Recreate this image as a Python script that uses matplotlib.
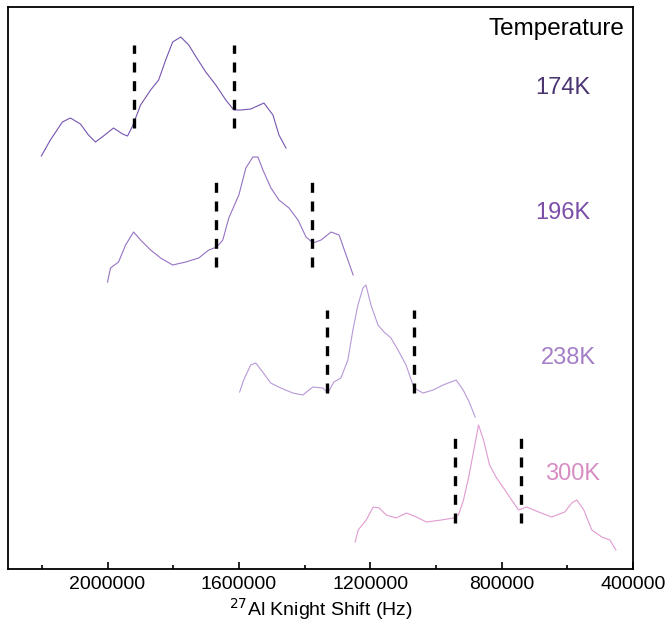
import matplotlib.pyplot as plt
from matplotlib.ticker import MultipleLocator

plt.rcParams['font.family'] = ['Liberation Sans', 'DejaVu Sans']

# spectra: shift (Hz) and offset intensity (arb. units)
shift_174 = [2201500, 2174000, 2137400, 2113000, 2082500, 2058000, 2036700, 2012200,
             1981700, 1954200, 1939000, 1923700, 1899300, 1868800, 1844300, 1822900,
             1801600, 1777100, 1752700, 1728300, 1700800, 1670300, 1639800, 1615300,
             1594000, 1563500, 1523800, 1496300, 1478000, 1456600]
inten_174 = [413, 429, 447, 451, 445, 434, 427, 433, 441, 435, 433, 443, 464, 479,
             489, 509, 527, 532, 524, 511, 497, 484, 469, 459, 459, 460, 466, 454,
             434, 421]

shift_196 = [2000000, 1990800, 1966400, 1945000, 1920600, 1899300, 1868800, 1838300,
             1801600, 1761900, 1722200, 1691700, 1667300, 1649000, 1630700, 1600100,
             1578800, 1557400, 1542100, 1526900, 1502400, 1478000, 1447500, 1420000,
             1395600, 1374200, 1349800, 1319300, 1294900, 1273500, 1252100]
inten_196 = [287, 301, 307, 324, 337, 329, 319, 311, 304, 307, 311, 319, 322, 329,
             351, 374, 401, 412, 412, 399, 381, 369, 361, 349, 332, 326, 329, 337,
             334, 314, 294]

shift_238 = [1597700, 1585500, 1564100, 1548900, 1527500, 1503100, 1472600, 1435900,
             1405400, 1374900, 1344400, 1329100, 1310800, 1289400, 1268100, 1252800,
             1237600, 1222300, 1213200, 1197900, 1176500, 1158200, 1136900, 1115500,
             1091100, 1066600, 1039200, 1008700, 978200, 938500, 917100, 898800,
             880500]
inten_238 = [177, 189, 204, 206, 197, 186, 181, 176, 174, 182, 181, 176, 187, 191,
             209, 239, 264, 281, 284, 264, 244, 237, 231, 219, 204, 181, 176, 179,
             184, 189, 179, 167, 152]

shift_300 = [1245900, 1236800, 1212300, 1191000, 1172600, 1151300, 1120700, 1090200,
             1059700, 1029100, 983400, 946700, 931500, 916200, 900900, 885700, 870400,
             855100, 836800, 815400, 794100, 769600, 748300, 723800, 687200, 647500,
             607800, 586500, 571200, 549800, 525400, 494900, 470400, 452100]
inten_300 = [27, 39, 49, 62, 61, 54, 51, 56, 52, 47, 49, 51, 54, 69, 91, 117, 144,
             129, 104, 91, 81, 69, 59, 62, 57, 52, 57, 66, 69, 59, 39, 32, 29, 19]

# dashed marker positions (Hz) and their vertical extent
mark_174 = [1920600, 1615300]
mark_196 = [1670300, 1377200]
mark_238 = [1331400, 1065800]
mark_300 = [940600, 742200]
mark_span_174 = (441, 524)
mark_span_196 = (302, 387)
mark_span_238 = (176, 259)
mark_span_300 = (46, 131)

labels = ['174K', '196K', '238K', '300K']
line_colors = ['#7654b0', '#9572c2', '#b898d8', '#e09ad0']
text_colors = ['#4a3570', '#7b4fa8', '#a47fc6', '#d88cc4']
label_y = [481, 356, 211, 95]
label_x = [563, 563, 568, 573]

fig = plt.figure(figsize=(6.66, 6.24), dpi=100)
ax = fig.add_axes([8 / 666, 1 - 569 / 624, 625 / 666, 562 / 624])

series = [(shift_174, inten_174, mark_174, mark_span_174),
          (shift_196, inten_196, mark_196, mark_span_196),
          (shift_238, inten_238, mark_238, mark_span_238),
          (shift_300, inten_300, mark_300, mark_span_300)]

for i, (sx, sy, marks, span) in enumerate(series):
    ax.plot(sx, sy, color=line_colors[i], lw=0.8)
    for m in marks:
        ax.plot([m, m], span, color='black', lw=2.4, ls=(0, (3, 2.6)))

ax.set_xlim(2303000, 400000)
ax.set_ylim(0, 562)

for i, lab in enumerate(labels):
    xp = (label_x[i] - 8) / 625
    ax.text(xp, label_y[i] / 562, lab, transform=ax.transAxes, color=text_colors[i],
            fontsize=17, ha='center', va='center')
ax.text((624 - 8) / 625, (569 - 29) / 562, 'Temperature', transform=ax.transAxes,
        fontsize=17.5, ha='right', va='center')

ax.xaxis.set_major_locator(MultipleLocator(400000))
ax.xaxis.set_minor_locator(MultipleLocator(200000))
ax.ticklabel_format(axis='x', style='plain', useOffset=False)
ax.tick_params(axis='x', which='major', direction='in', length=5, width=1.2,
               labelsize=14, pad=5)
ax.tick_params(axis='x', which='minor', direction='in', length=3, width=1.2)
ax.set_yticks([])
for s in ax.spines.values():
    s.set_linewidth(1.3)

ax.set_xlabel('$^{27}$Al Knight Shift (Hz)', fontsize=14, labelpad=2)

fig.savefig('out.png', dpi=100)
